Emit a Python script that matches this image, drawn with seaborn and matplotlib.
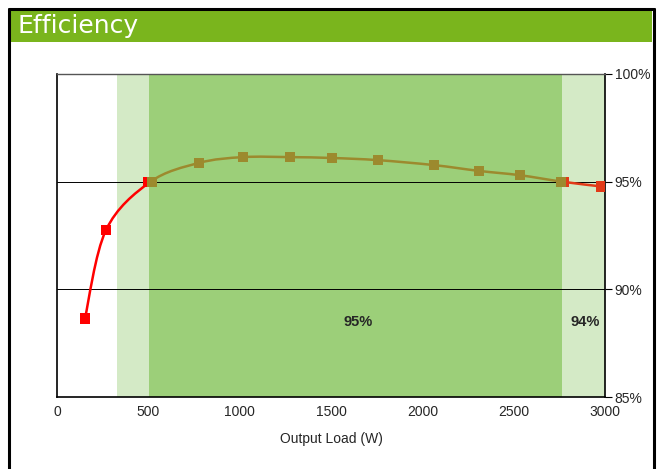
import numpy as np
import pandas as pd
import matplotlib
matplotlib.use("Agg")
import matplotlib.pyplot as plt
from matplotlib.path import Path
from matplotlib.patches import PathPatch, Rectangle
from matplotlib.lines import Line2D
from matplotlib.ticker import FuncFormatter
import seaborn as sns

sns.set_style("white")
plt.rcParams['font.family'] = ['Liberation Sans', 'DejaVu Sans']

# veri
load_w = [153, 268, 509, 777, 1018, 1275, 1505, 1757, 2063, 2310, 2534, 2764, 2977]
efficiency = [88.65, 92.75, 94.98, 95.87, 96.14, 96.14, 96.10, 96.00, 95.77, 95.50, 95.30, 95.00, 94.78]
band_outer = [328, 3000]
band_inner = [505, 2764]
band_labels = ["95%", "94%"]
band_label_x = [1648, 2890]
band_label_y = 88.5
yticks = [85, 90, 95, 100]
xticks = [0, 500, 1000, 1500, 2000, 2500, 3000]

df = pd.DataFrame({"load": load_w, "eff": efficiency})
df["part"] = ["low"] * 2 + ["mid"] * 10 + ["high"]

c_red = "#ff0000"
c_olive = "#9c8a2e"
c_orange = "#e23a18"

fig = plt.figure(figsize=(6.59, 4.69), dpi=100)
ax = fig.add_axes([57 / 659, 1 - 397 / 469, 548 / 659, 323 / 469])

# bantlar
ax.axvspan(band_outer[0], band_outer[1], color="#d4eac6", lw=0, zorder=0)
ax.axvspan(band_inner[0], band_inner[1], color="#9ccf79", lw=0, zorder=0.5)

for yv in [90, 95]:
    ax.axhline(yv, color="black", lw=0.7, zorder=1)


def smooth_path(xs, ys, t=0.5 / 3):
    # Catmull-Rom -> bezier kontrol noktalari
    pts = list(zip(xs, ys))
    verts = [pts[0]]
    codes = [Path.MOVETO]
    for i in range(len(pts) - 1):
        p0 = pts[i - 1] if i > 0 else pts[i]
        p1 = pts[i]
        p2 = pts[i + 1]
        p3 = pts[i + 2] if i + 2 < len(pts) else pts[i + 1]
        c1 = (p1[0] + (p2[0] - p0[0]) * t, p1[1] + (p2[1] - p0[1]) * t)
        c2 = (p2[0] - (p3[0] - p1[0]) * t, p2[1] - (p3[1] - p1[1]) * t)
        verts += [c1, c2, p2]
        codes += [Path.CURVE4] * 3
    return Path(verts, codes)


full = smooth_path(load_w, efficiency)
segs = full.vertices


# egriyi parcalara ayir: 0-2 kirmizi, 2-11 zeytin, 11-12 turuncu
def sub_path(i0, i1):
    v = segs[i0 * 3:i1 * 3 + 1]
    codes = [Path.MOVETO] + [Path.CURVE4] * (len(v) - 1)
    return Path(v, codes)


for (i0, i1), col in [((0, 2), c_red), ((2, 11), c_olive), ((11, 12), c_orange)]:
    ax.add_patch(PathPatch(sub_path(i0, i1), fill=False, edgecolor=col, lw=1.8, zorder=2))

palette = {"low": c_red, "mid": c_olive, "high": c_orange}
sns.scatterplot(data=df, x="load", y="eff", hue="part", palette=palette, marker="s",
                s=55, edgecolor="none", legend=False, ax=ax, zorder=3)
# gecis noktalari: iki renkli kareler
ax.scatter([load_w[2] - 12], [efficiency[2]], marker="s", s=55, color=c_red, zorder=3, lw=0)
ax.scatter([load_w[2] + 12], [efficiency[2]], marker="s", s=55, color=c_olive, zorder=3.1, lw=0)
ax.scatter([load_w[11] + 12], [efficiency[11]], marker="s", s=55, color=c_orange, zorder=3, lw=0)
ax.scatter([load_w[11] - 6], [efficiency[11]], marker="s", s=55, color=c_olive, zorder=3.1, lw=0)

for lbl, lx in zip(band_labels, band_label_x):
    ax.text(lx, band_label_y, lbl, ha="center", va="center", fontsize=10.5, fontweight="bold", zorder=4)

ax.set_xlim(0, 3000)
ax.set_ylim(85, 100)
ax.set_xticks(xticks)
ax.set_yticks(yticks)
ax.yaxis.tick_right()
ax.yaxis.set_major_formatter(FuncFormatter(lambda v, p: f"{v:.0f}%"))
ax.tick_params(axis="both", labelsize=10, length=5, width=0.8, color="black", direction="out")
ax.tick_params(axis="y", pad=2)
ax.tick_params(axis="x", pad=1)
ax.set_xlabel("Output Load (W)", fontsize=10, labelpad=9)
ax.set_ylabel("")

for side in ["left", "bottom", "right"]:
    ax.spines[side].set_color("black")
    ax.spines[side].set_linewidth(1.2)
ax.spines["top"].set_color("#555555")
ax.spines["top"].set_linewidth(1.0)

# baslik bandi ve cerceve
fig.patches.append(Rectangle((10 / 659, 1 - 42 / 469), 642 / 659, 32 / 469,
                             transform=fig.transFigure, color="#7ab51d", lw=0, zorder=0))
fig.text(18 / 659, 1 - 26 / 469, "Efficiency", color="white", fontsize=18,
         va="center", ha="left", family="DejaVu Sans")
for xy in [([9, 654], [9, 9]), ([9, 9], [9, 470]), ([654, 654], [9, 470])]:
    fig.lines.append(Line2D([p / 659 for p in xy[0]], [1 - p / 469 for p in xy[1]],
                            transform=fig.transFigure, color="black", lw=2.2))

plt.savefig("out.png", dpi=100)
plt.close()
